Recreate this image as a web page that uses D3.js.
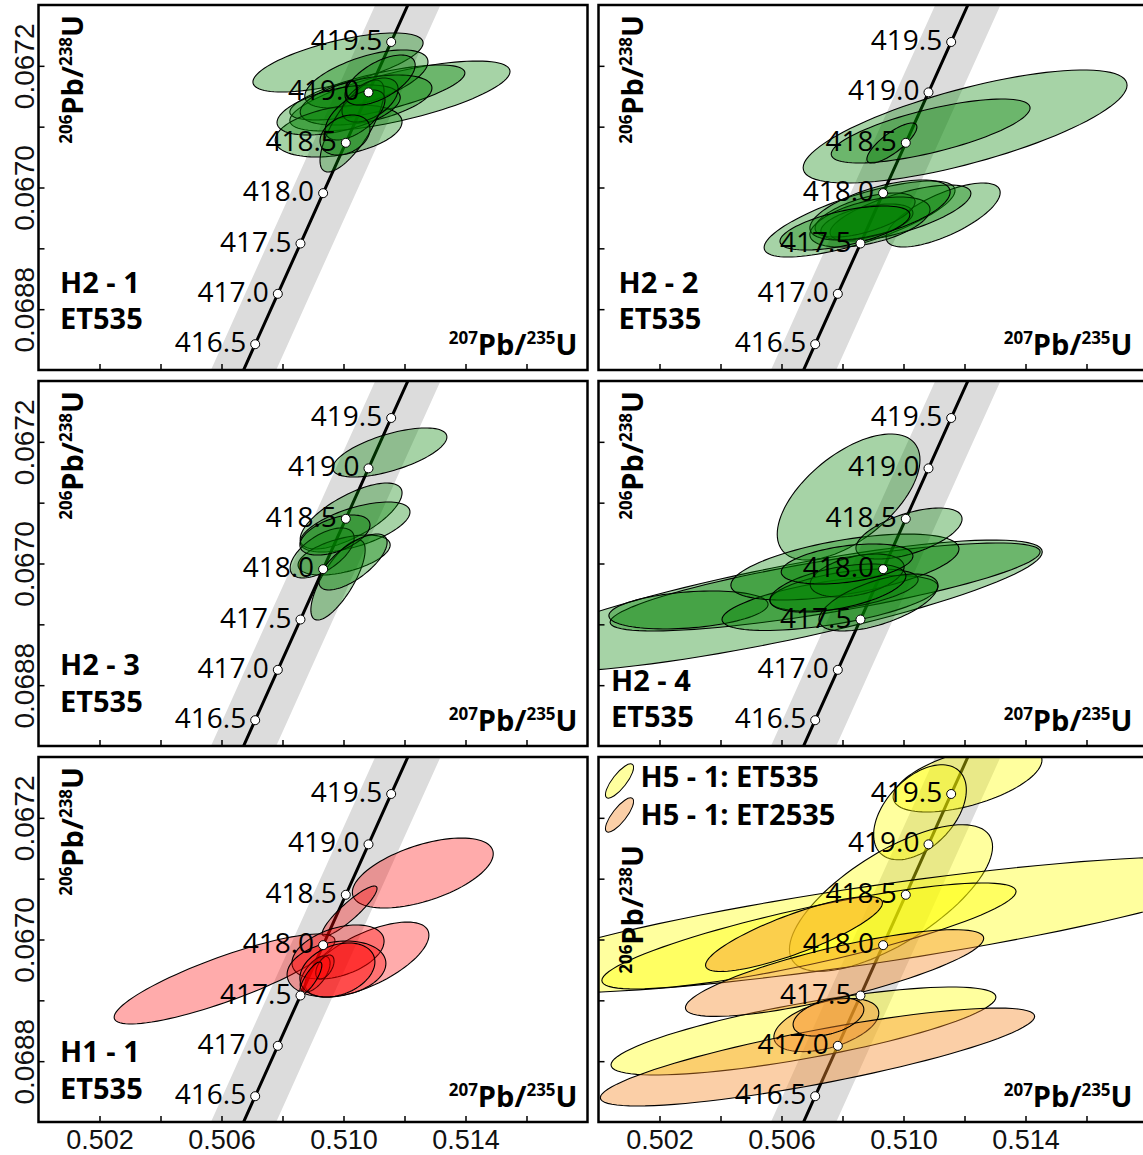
<!DOCTYPE html>
<html>
<head>
<meta charset="utf-8">
<script src="https://cdn.jsdelivr.net/npm/d3@7"></script>
<style>
	body { margin: 0; background: #fff; }
	svg { display: block; font-family: "Open Sans", "Noto Sans", sans-serif; }
</style>
</head>
<body>
<script>
'use strict';

// concordia, every 0.5 Ma (207Pb/235U, 206Pb/238U)
const concAges = [416.0, 416.5, 417.0, 417.5, 418.0, 418.5, 419.0, 419.5, 420.0];
const concX = [0.5063622, 0.5071042, 0.5078465, 0.5085891, 0.5093322, 0.5100756, 0.5108194, 0.5115635, 0.5123081];
const concY = [0.0666597, 0.0667424, 0.0668252, 0.0669079, 0.0669907, 0.0670735, 0.0671564, 0.0672392, 0.0673221];
const ageLabels = ['', '416.5', '417.0', '417.5', '418.0', '418.5', '419.0', '419.5', ''];
const bandHalf = 0.00107;	// decay constant uncertainty, in 207/235 units

const xDomain = [0.500, 0.518];
const yDomain = [0.0667, 0.0673];
const xTicks = [0.502, 0.504, 0.506, 0.508, 0.510, 0.512, 0.514, 0.516];
const xLabelled = [0.502, 0.506, 0.510, 0.514];
const yTicks = [0.0668, 0.0669, 0.0670, 0.0671, 0.0672];
const yLabelled = [0.0672, 0.0670, 0.0668];
const yLabelText = ['0.0672', '0.0670', '0.0688'];

// ellipses: [x, y, sx, sy, rho]
const h21 = [
	[0.50982, 0.0672055, 0.00279, 0.0000485, 0.66],
	[0.51185, 0.0671504, 0.00361, 0.0000575, 0.70],
	[0.51111, 0.0671562, 0.00287, 0.0000452, 0.71],
	[0.51075, 0.0671784, 0.00202, 0.0000477, 0.59],
	[0.51074, 0.0671438, 0.00216, 0.0000411, 0.48],
	[0.50984, 0.0670929, 0.00208, 0.0000427, 0.35],
	[0.50984, 0.0671274, 0.00202, 0.0000411, 0.50],
	[0.51028, 0.0671011, 0.00105, 0.0000756, 0.75],
	[0.51087, 0.0671438, 0.00092, 0.0000362, 0.50],
	[0.51038, 0.0671192, 0.00098, 0.0000411, 0.60],
	[0.51005, 0.0670863, 0.00082, 0.0000329, 0.30],
	[0.51120, 0.0671767, 0.00115, 0.0000411, 0.60]
];
const h22 = [
	[0.51202, 0.0671003, 0.00531, 0.0000929, 0.73],
	[0.51089, 0.0670929, 0.00326, 0.0000526, 0.72],
	[0.50962, 0.0670731, 0.00082, 0.0000329, 0.80],
	[0.50856, 0.0669482, 0.00313, 0.0000625, 0.75],
	[0.51130, 0.0669548, 0.00187, 0.0000526, 0.70],
	[0.50990, 0.0669581, 0.00231, 0.0000460, 0.70],
	[0.50880, 0.0669433, 0.00151, 0.0000296, 0.50],
	[0.50874, 0.0669548, 0.00164, 0.0000362, 0.60],
	[0.50890, 0.0669433, 0.00197, 0.0000411, 0.50],
	[0.50923, 0.0669630, 0.00230, 0.0000493, 0.60],
	[0.50808, 0.0669334, 0.00213, 0.0000362, 0.60]
];
const h23 = [
	[0.51152, 0.0671825, 0.00187, 0.0000403, 0.63],
	[0.51025, 0.0670781, 0.00167, 0.0000542, 0.70],
	[0.51038, 0.0670600, 0.00180, 0.0000411, 0.60],
	[0.51002, 0.0670140, 0.00151, 0.0000329, 0.50],
	[0.50982, 0.0669729, 0.00089, 0.0000658, 0.75],
	[0.50930, 0.0670173, 0.00105, 0.0000411, 0.60],
	[0.50972, 0.0670468, 0.00115, 0.0000329, 0.50],
	[0.51031, 0.0670025, 0.00112, 0.0000460, 0.70]
];
const h24 = [
	[0.50820, 0.0671093, 0.00234, 0.0001036, 0.59],
	[0.50566, 0.0669301, 0.00889, 0.0001085, 0.82],
	[0.50743, 0.0669614, 0.00705, 0.0000723, 0.80],
	[0.50295, 0.0669236, 0.00261, 0.0000312, 0.30],
	[0.50759, 0.0669351, 0.00354, 0.0000452, 0.60],
	[0.50808, 0.0669942, 0.00374, 0.0000542, 0.55],
	[0.51018, 0.0670493, 0.00174, 0.0000419, 0.57],
	[0.50805, 0.0669564, 0.00243, 0.0000345, 0.50],
	[0.50848, 0.0669803, 0.00154, 0.0000353, 0.40],
	[0.50918, 0.0669359, 0.00195, 0.0000468, 0.60],
	[0.50785, 0.0669597, 0.00223, 0.0000395, 0.50],
	[0.50815, 0.0669992, 0.00216, 0.0000329, 0.40]
];
const h11 = [
	[0.51260, 0.0671093, 0.00231, 0.0000575, 0.55],
	[0.51020, 0.0670468, 0.00090, 0.0000411, 0.90],
	[0.50610, 0.0669351, 0.00362, 0.0000740, 0.85],
	[0.51077, 0.0669671, 0.00203, 0.0000616, 0.65],
	[0.50982, 0.0669795, 0.00151, 0.0000444, 0.40],
	[0.50977, 0.0669515, 0.00162, 0.0000460, 0.20],
	[0.50907, 0.0669433, 0.00049, 0.0000296, 0.60],
	[0.50939, 0.0669548, 0.00030, 0.0000197, 0.50],
	[0.50980, 0.0669499, 0.00123, 0.0000444, 0.30],
	[0.50893, 0.0669367, 0.00036, 0.0000263, 0.80]
];
const h51Et535 = [
	[0.51210, 0.0672647, 0.00244, 0.0000551, 0.55],
	[0.51054, 0.0672091, 0.00152, 0.0000781, 0.47],
	[0.50959, 0.0670682, 0.00333, 0.0001205, 0.70],
	[0.50890, 0.0670238, 0.01246, 0.0001118, 0.82],
	[0.50690, 0.0670058, 0.00679, 0.0000871, 0.84],
	[0.50672, 0.0668496, 0.00631, 0.0000723, 0.77]
];
const h51Et2535 = [
	[0.50641, 0.0670090, 0.00290, 0.0000616, 0.83],
	[0.50774, 0.0669449, 0.00489, 0.0000713, 0.80],
	[0.50747, 0.0668594, 0.00172, 0.0000437, 0.45],
	[0.50718, 0.0668068, 0.00712, 0.0000805, 0.83],
	[0.50754, 0.0668726, 0.00116, 0.0000312, 0.40]
];

const fills = {
	green: 'rgba(0,128,0,0.35)',
	red: 'rgba(255,0,0,0.33)',
	yellow: 'rgba(255,255,0,0.38)',
	orange: 'rgba(245,140,45,0.42)'
};

const colLeft = [38.5, 598.5];
const rowTop = [5, 381, 757];
const W = 549, H = 365;

const panels = [
	{ name: 'H2 - 1', sample: 'ET535', col: 0, row: 0, sets: [[h21, 'green']], lab: [21.5, 288, 324] },
	{ name: 'H2 - 2', sample: 'ET535', col: 1, row: 0, sets: [[h22, 'green']], lab: [20, 288, 324] },
	{ name: 'H2 - 3', sample: 'ET535', col: 0, row: 1, sets: [[h23, 'green']], lab: [21.5, 294, 331] },
	{ name: 'H2 - 4', sample: 'ET535', col: 1, row: 1, sets: [[h24, 'green']], lab: [12.5, 310, 346] },
	{ name: 'H1 - 1', sample: 'ET535', col: 0, row: 2, sets: [[h11, 'red']], lab: [21.5, 305, 342] },
	{ name: null, col: 1, row: 2, sets: [[h51Et535, 'yellow'], [h51Et2535, 'orange']], legend: ['H5 - 1: ET535', 'H5 - 1: ET2535'] }
];

function ellipsePoints(e) {
	const [cx, cy, sx, sy, r] = e;
	const k = Math.sqrt(1 - r * r);
	return d3.range(0, 96).map(i => {
		const t = i / 96 * 2 * Math.PI;
		return [cx + sx * Math.cos(t), cy + sy * (r * Math.cos(t) + k * Math.sin(t))];
	});
}

function ratioTitle(sel, a, b) {
	// e.g. 206Pb/238U with superscript mass numbers
	sel.append('tspan').attr('font-size', 17).attr('dy', -11).text(a);
	sel.append('tspan').attr('font-size', 29).attr('dy', 11).text('Pb/');
	sel.append('tspan').attr('font-size', 17).attr('dy', -11).text(b);
	sel.append('tspan').attr('font-size', 29).attr('dy', 11).text('U');
}

const svg = d3.select('body').append('svg')
	.attr('width', 1143)
	.attr('height', 1155);
const defs = svg.append('defs');

panels.forEach((p, i) => {
	const x0 = colLeft[p.col], y0 = rowTop[p.row];
	const x = d3.scaleLinear().domain(xDomain).range([x0, x0 + W]);
	const y = d3.scaleLinear().domain(yDomain).range([y0 + H, y0]);
	const line = d3.line().x(d => x(d[0])).y(d => y(d[1]));

	defs.append('clipPath').attr('id', 'clip' + i)
		.append('rect').attr('x', x0).attr('y', y0).attr('width', W).attr('height', H);

	const g = svg.append('g');
	const inner = g.append('g').attr('clip-path', `url(#clip${i})`);

	// uncertainty band round the concordia
	const band = concX.map((v, k) => [v - bandHalf, concY[k]])
		.concat(concX.map((v, k) => [v + bandHalf, concY[k]]).reverse());
	inner.append('path')
		.attr('d', line(band) + 'Z')
		.attr('fill', '#dcdcdc');

	inner.append('path')
		.attr('d', line(concX.map((v, k) => [v, concY[k]])))
		.attr('fill', 'none')
		.attr('stroke', '#000')
		.attr('stroke-width', 3);

	const marks = concAges.map((a, k) => ({ x: concX[k], y: concY[k], label: ageLabels[k] }))
		.filter(d => d.label);

	// error ellipses
	p.sets.forEach(([list, colour]) => {
		inner.selectAll(null)
			.data(list)
			.enter().append('path')
			.attr('d', d => line.curve(d3.curveLinearClosed)(ellipsePoints(d)))
			.attr('fill', fills[colour])
			.attr('stroke', '#000')
			.attr('stroke-width', 1.1);
	});
	line.curve(d3.curveLinear);

	inner.selectAll('text.age')
		.data(marks)
		.enter().append('text')
		.classed('age', true)
		.attr('x', d => x(d.x) - 9)
		.attr('y', d => y(d.y) + 8)
		.attr('text-anchor', 'end')
		.attr('font-size', 28)
		.attr('fill', '#000')
		.text(d => d.label);

	inner.selectAll('circle')
		.data(marks)
		.enter().append('circle')
		.attr('cx', d => x(d.x))
		.attr('cy', d => y(d.y))
		.attr('r', 4.5)
		.attr('fill', '#fff')
		.attr('stroke', '#000')
		.attr('stroke-width', 1);

	// axes, ticks pointing inward
	const xAxis = g.append('g')
		.attr('transform', `translate(0,${y0 + H})`)
		.call(d3.axisBottom(x).tickValues(xTicks).tickSize(-6).tickPadding(8)
			.tickFormat(d => (p.row === 2 && xLabelled.some(v => Math.abs(v - d) < 1e-9)) ? d3.format('.3f')(d) : ''));
	xAxis.select('.domain').remove();
	xAxis.selectAll('line').attr('stroke-width', 1.5);
	xAxis.selectAll('text').attr('font-size', 27).attr('font-family', null).attr('fill', '#111');

	const yAxis = g.append('g')
		.attr('transform', `translate(${x0},0)`)
		.call(d3.axisLeft(y).tickValues(yTicks).tickSize(-6)
			.tickFormat(d => {
				if (p.col !== 0) return '';
				const k = yLabelled.findIndex(v => Math.abs(v - d) < 1e-9);
				return k < 0 ? '' : yLabelText[k];
			}));
	yAxis.select('.domain').remove();
	yAxis.selectAll('line').attr('stroke-width', 1.5);
	yAxis.selectAll('text')
		.attr('transform', 'rotate(-90)')
		.attr('x', 0)
		.attr('y', -5)
		.attr('dy', 0)
		.attr('text-anchor', 'middle')
		.attr('font-size', 28)
		.attr('font-family', null)
		.attr('fill', '#111');

	g.append('rect')
		.attr('x', x0).attr('y', y0)
		.attr('width', W).attr('height', H)
		.attr('fill', 'none')
		.attr('stroke', '#000')
		.attr('stroke-width', 2.5);

	// axis titles
	ratioTitle(g.append('text')
		.attr('text-anchor', 'end')
		.attr('font-weight', 'bold')
		.attr('x', x0 + W - (p.col === 0 ? 10 : 15))
		.attr('y', y0 + H - 15), '207', '235');

	ratioTitle(g.append('text')
		.attr('text-anchor', 'end')
		.attr('font-weight', 'bold')
		.attr('transform', `translate(${x0 + 44},${y0 + (p.legend ? 88 : 10)}) rotate(-90)`), '206', '238');

	if (p.name) {
		g.append('text')
			.attr('x', x0 + p.lab[0]).attr('y', y0 + p.lab[1])
			.attr('font-size', 29).attr('font-weight', 'bold')
			.text(p.name);
		g.append('text')
			.attr('x', x0 + p.lab[0]).attr('y', y0 + p.lab[2])
			.attr('font-size', 29).attr('font-weight', 'bold')
			.text(p.sample);
	}

	if (p.legend) {
		const lg = g.append('g');
		p.legend.forEach((t, k) => {
			lg.append('ellipse')
				.attr('transform', `translate(${x0 + 21},${y0 + 24 + k * 34}) rotate(-52)`)
				.attr('rx', 21).attr('ry', 7)
				.attr('fill', fills[p.sets[k][1]])
				.attr('stroke', '#000')
				.attr('stroke-width', 1);
			lg.append('text')
				.attr('x', x0 + 42).attr('y', y0 + 30 + k * 38)
				.attr('font-size', 29).attr('font-weight', 'bold')
				.text(t);
		});
	}
});
</script>
</body>
</html>
